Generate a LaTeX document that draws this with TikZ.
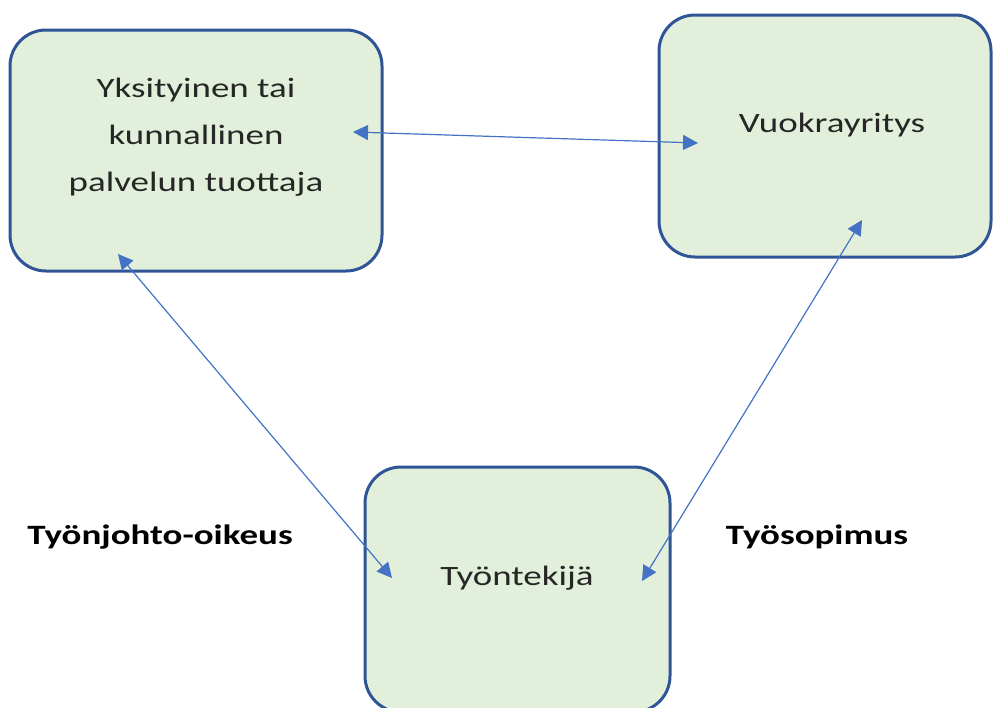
\documentclass[tikz,border=0pt]{standalone}
\usepackage{fontspec}
\setmainfont{Carlito}[FakeStretch=1.32]
\usetikzlibrary{arrows.meta,calc}
\definecolor{boxfill}{HTML}{E2EFDA}
\definecolor{boxline}{HTML}{2F5597}
\definecolor{arrowc}{HTML}{4472C4}
\begin{document}
\begin{tikzpicture}[x=1pt,y=-1pt,
  box/.style={draw=boxline, fill=boxfill, line width=3pt, rounded corners=36pt, inner sep=0pt},
  txt/.style={text=black!85, align=center, font=\fontsize{28}{47}\selectfont},
  lab/.style={font=\bfseries\fontsize{28}{34}\selectfont},
  rel/.style={draw=arrowc, line width=1.2pt, {Triangle[length=15pt,width=15pt]}-{Triangle[length=15pt,width=15pt]}}]
\useasboundingbox (0,0) rectangle (993,707);
\node[box, minimum width=372pt, minimum height=241pt] (b1) at (196,150.5) {};
\node[box, minimum width=332pt, minimum height=242pt] (b2) at (825,136) {};
\node[box, minimum width=305pt, minimum height=245pt] (b3) at (517.5,589.5) {};
\node[txt] (t1) at (196,137) {Yksityinen tai\\kunnallinen\\palvelun tuottaja};
\node[txt] (t2) at (832,125) {Vuokrayritys};
\node[txt] (t3) at (517,578) {Työntekijä};
\node[lab] (l1) at (160,537) {Työnjohto-oikeus};
\node[lab] (l2) at (817,537) {Työsopimus};
\coordinate (a1s) at (353,132);
\coordinate (a1e) at (698,143);
\coordinate (a2s) at (118,254);
\coordinate (a2e) at (392,578);
\coordinate (a3s) at (862,220);
\coordinate (a3e) at (642,581);
\draw[rel] (a1s) -- (a1e);
\draw[rel] (a2s) -- (a2e);
\draw[rel] (a3s) -- (a3e);
\end{tikzpicture}
\end{document}
